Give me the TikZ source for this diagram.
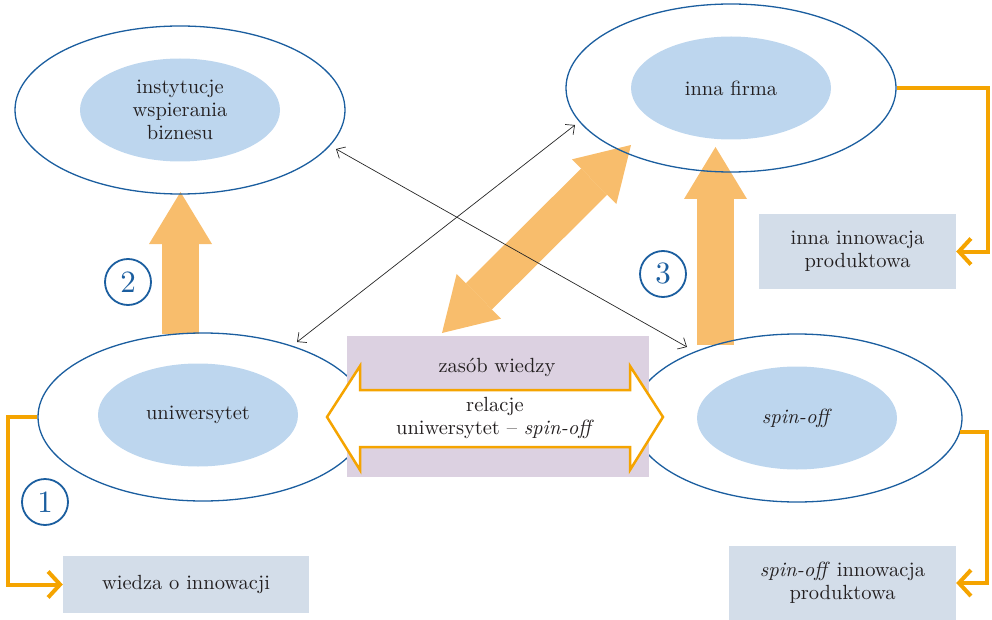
\documentclass[tikz,border=0pt]{standalone}
\usepackage{fontspec}
\setmainfont{lmroman10}[Extension=.otf, UprightFont=*-regular, ItalicFont=*-italic]
\usepackage{tikz}
\usetikzlibrary{positioning, shapes.geometric, arrows.meta}

\definecolor{ringblue}{HTML}{1B5E9F}
\definecolor{coreblue}{HTML}{BDD6EE}
\definecolor{stocklilac}{HTML}{DCD1E1}
\definecolor{outgrey}{HTML}{D3DDE9}
\definecolor{flowline}{HTML}{F5A400}
\definecolor{flowblock}{HTML}{F8BD6C}
\definecolor{inktxt}{HTML}{231F20}

\newcommand{\diagfont}{\fontsize{20.5}{23}\selectfont}
\newcommand{\digitfont}{\fontsize{31}{32}\selectfont}

\tikzset{
  ring/.style={ellipse, draw=ringblue, line width=1.3pt, minimum width=330pt, minimum height=168pt, inner sep=0pt},
  core/.style={ellipse, fill=coreblue, minimum width=200pt, minimum height=103pt, inner sep=0pt, align=center, text=inktxt, font=\diagfont},
  outbox/.style={rectangle, fill=outgrey, inner sep=0pt, align=center, text=inktxt, font=\diagfont},
  plain/.style={inner sep=0pt, align=center, text=inktxt, font=\diagfont},
  flow/.style={draw=flowline, line width=4pt, -{Straight Barb[length=12pt,width=26pt]}},
  block/.style={draw=flowblock, line width=37pt, -{Triangle[length=52pt,width=63pt,line width=0pt]}},
  blocktwo/.style={draw=flowblock, line width=37pt, {Triangle[length=52pt,width=63pt,line width=0pt]}-{Triangle[length=52pt,width=63pt,line width=0pt]}},
  link/.style={draw=black!85, line width=0.7pt, {Straight Barb[length=7pt,width=13pt]}-{Straight Barb[length=7pt,width=13pt]}},
  numring/.style={circle, draw=ringblue, line width=1.8pt, minimum size=46pt, inner sep=0pt, text=ringblue, font=\digitfont}
}

\begin{document}
\begin{tikzpicture}[x=1pt, y=-1pt]
  \useasboundingbox (0,0) rectangle (992,620);
  % ends of the block arrows
  \coordinate (b2s) at (180.5,334);
  \coordinate (b2e) at (180.5,192);
  \coordinate (b3s) at (715.5,345);
  \coordinate (b3e) at (715.5,147);
  \coordinate (dgs) at (442,333);
  \coordinate (dge) at (631,145);
  % block arrows
  \draw[block] (b2s) -- (b2e);
  \draw[block] (b3s) -- (b3e);
  \draw[blocktwo] (dgs) -- (dge);
  % actors
  \node[ring] (inst) at (180,110) {};
  \node[core] (inst-in) at (inst) {instytucje\\wspierania\\biznesu};
  \node[ring] (firma) at (731,88) {};
  \node[core] (firma-in) at (firma) {inna firma};
  \node[ring] (uni) at (203,417) {};
  \node[core] (uni-in) at (198,415) {uniwersytet};
  \node[ring] (spin) at (797,418) {};
  \node[core] (spin-in) at (spin) {\textit{spin-off}};
  % knowledge stock
  \node[rectangle, fill=stocklilac, minimum width=302pt, minimum height=141pt, inner sep=0pt] (stock) at (498,406.5) {};
  \node[plain] (stock-lbl) at (497,367) {zasób wiedzy};
  % relation arrow
  \draw[flowline, line width=2.5pt, fill=white, line join=miter]
    (327,417) -- (360,366) -- (360,390) -- (630,390) -- (630,366) -- (663,417)
    -- (630,470) -- (630,447) -- (360,447) -- (360,470) -- cycle;
  \node[plain] (rel) at (495,418) {relacje\\uniwersytet – \textit{spin-off}};
  % outcomes
  \node[outbox, minimum width=246pt, minimum height=57pt] (know) at (186,584.5) {wiedza o innowacji};
  \node[outbox, minimum width=197pt, minimum height=75pt] (prodfirm) at (857.5,251.5) {inna innowacja\\produktowa};
  \node[outbox, minimum width=227pt, minimum height=74pt] (prodspin) at (842.5,583) {\textit{spin-off} innowacja\\produktowa};
  \draw[flow] (uni.west) -- ++(-29,0) |- (know.west);
  \draw[flow] (firma.east) -- ++(91,0) |- (prodfirm.east);
  \draw[flow] (spin.-5) -- ++(27,0) |- (prodspin.east);
  % thin links
  \coordinate (l1s) at (297,342);
  \coordinate (l1e) at (575,125);
  \coordinate (l2s) at (336,149);
  \coordinate (l2e) at (687,347);
  \draw[link] (l1s) -- (l1e);
  \draw[link] (l2s) -- (l2e);
  % numbers
  \node[numring] (n1) at (45,502) {1};
  \node[numring] (n2) at (128,282) {2};
  \node[numring] (n3) at (663,274) {3};
\end{tikzpicture}
\end{document}
